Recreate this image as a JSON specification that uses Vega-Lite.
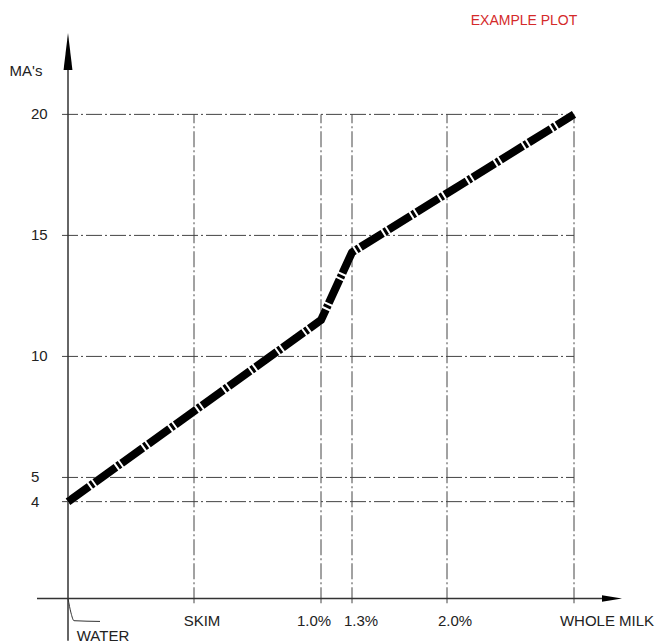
{
  "$schema": "https://vega.github.io/schema/vega-lite/v6.json",
  "width": 600,
  "height": 622,
  "autosize": "none",
  "padding": {"left": 28, "right": 31, "top": 20, "bottom": 2},
  "background": "white",
  "config": {"view": {"stroke": null}, "font": "Liberation Sans"},
  "datasets": {
    "series": [
      {"milk": "WATER", "pos": 0, "ma": 4},
      {"milk": "1.0%", "pos": 253, "ma": 11.5},
      {"milk": "1.3%", "pos": 284, "ma": 14.3},
      {"milk": "WHOLE MILK", "pos": 506, "ma": 20}
    ],
    "xcats": [
      {"label": "SKIM", "pos": 126, "lx": 134, "ly": -0.95},
      {"label": "1.0%", "pos": 253, "lx": 246, "ly": -0.95},
      {"label": "1.3%", "pos": 284, "lx": 293, "ly": -0.95},
      {"label": "2.0%", "pos": 379, "lx": 387, "ly": -0.95},
      {"label": "WHOLE  MILK", "pos": 506, "lx": 539, "ly": -0.95}
    ],
    "ylevels": [
      {"ma": 4, "label": "4"},
      {"ma": 5, "label": "5"},
      {"ma": 10, "label": "10"},
      {"ma": 15, "label": "15"},
      {"ma": 20, "label": "20"}
    ],
    "leader": [
      {"pos": 0, "ma": 0},
      {"pos": 3, "ma": -0.6},
      {"pos": 6, "ma": -0.92},
      {"pos": 32, "ma": -0.95}
    ],
    "one": [{"k": 1}]
  },
  "layer": [
    {
      "data": {"name": "ylevels"},
      "mark": {"type": "rule", "stroke": "#444", "strokeWidth": 1, "strokeDash": [16, 3, 2, 3]},
      "encoding": {
        "y": {"field": "ma", "type": "quantitative", "scale": {"domain": [-1.8, 23.9], "nice": false, "zero": false}, "axis": null},
        "x": {"datum": -6, "type": "quantitative", "scale": {"domain": [-40, 560], "nice": false, "zero": false}, "axis": null},
        "x2": {"datum": 506}
      }
    },
    {
      "data": {"name": "xcats"},
      "mark": {"type": "rule", "stroke": "#444", "strokeWidth": 1, "strokeDash": [16, 3, 2, 3]},
      "encoding": {
        "x": {"field": "pos", "type": "quantitative", "scale": {"domain": [-40, 560], "nice": false, "zero": false}, "axis": null},
        "y": {"datum": -0.2, "type": "quantitative", "scale": {"domain": [-1.8, 23.9], "nice": false, "zero": false}, "axis": null},
        "y2": {"datum": 20}
      }
    },
    {
      "data": {"name": "one"},
      "mark": {"type": "rule", "stroke": "#333", "strokeWidth": 1.5},
      "encoding": {
        "x": {"datum": -31, "type": "quantitative", "scale": {"domain": [-40, 560], "nice": false, "zero": false}, "axis": null},
        "x2": {"datum": 544},
        "y": {"datum": 0, "type": "quantitative", "scale": {"domain": [-1.8, 23.9], "nice": false, "zero": false}, "axis": null}
      }
    },
    {
      "data": {"name": "one"},
      "mark": {"type": "rule", "stroke": "#333", "strokeWidth": 1.5},
      "encoding": {
        "x": {"datum": 0, "type": "quantitative", "scale": {"domain": [-40, 560], "nice": false, "zero": false}, "axis": null},
        "y": {"datum": -1.75, "type": "quantitative", "scale": {"domain": [-1.8, 23.9], "nice": false, "zero": false}, "axis": null},
        "y2": {"datum": 22}
      }
    },
    {
      "data": {"name": "one"},
      "mark": {"type": "point", "shape": "M0,-1L0.24,1L-0.24,1Z", "size": 1369, "filled": true, "color": "black", "opacity": 1},
      "encoding": {
        "x": {"datum": 0, "type": "quantitative", "scale": {"domain": [-40, 560], "nice": false, "zero": false}, "axis": null},
        "y": {"datum": 22.6, "type": "quantitative", "scale": {"domain": [-1.8, 23.9], "nice": false, "zero": false}, "axis": null}
      }
    },
    {
      "data": {"name": "one"},
      "mark": {"type": "point", "shape": "M1,0L-1,0.32L-1,-0.32Z", "size": 400, "filled": true, "color": "black", "opacity": 1},
      "encoding": {
        "x": {"datum": 544, "type": "quantitative", "scale": {"domain": [-40, 560], "nice": false, "zero": false}, "axis": null},
        "y": {"datum": 0, "type": "quantitative", "scale": {"domain": [-1.8, 23.9], "nice": false, "zero": false}, "axis": null}
      }
    },
    {
      "data": {"name": "leader"},
      "mark": {"type": "line", "stroke": "#333", "strokeWidth": 1, "interpolate": "monotone"},
      "encoding": {
        "x": {"field": "pos", "type": "quantitative", "scale": {"domain": [-40, 560], "nice": false, "zero": false}, "axis": null},
        "y": {"field": "ma", "type": "quantitative", "scale": {"domain": [-1.8, 23.9], "nice": false, "zero": false}, "axis": null},
        "order": {"field": "pos"}
      }
    },
    {
      "data": {"name": "series"},
      "mark": {"type": "line", "stroke": "white", "strokeWidth": 8, "strokeJoin": "round"},
      "encoding": {
        "x": {"field": "pos", "type": "quantitative", "scale": {"domain": [-40, 560], "nice": false, "zero": false}, "axis": null},
        "y": {"field": "ma", "type": "quantitative", "scale": {"domain": [-1.8, 23.9], "nice": false, "zero": false}, "axis": null}
      }
    },
    {
      "data": {"name": "series"},
      "mark": {"type": "line", "stroke": "black", "strokeWidth": 8, "strokeJoin": "round", "strokeDash": [26, 2, 3, 2]},
      "encoding": {
        "x": {"field": "pos", "type": "quantitative", "scale": {"domain": [-40, 560], "nice": false, "zero": false}, "axis": null},
        "y": {"field": "ma", "type": "quantitative", "scale": {"domain": [-1.8, 23.9], "nice": false, "zero": false}, "axis": null}
      }
    },
    {
      "data": {"name": "ylevels"},
      "mark": {"type": "text", "align": "left", "baseline": "middle", "fontSize": 15, "fill": "#222"},
      "encoding": {
        "x": {"datum": -37, "type": "quantitative", "scale": {"domain": [-40, 560], "nice": false, "zero": false}, "axis": null},
        "y": {"field": "ma", "type": "quantitative", "scale": {"domain": [-1.8, 23.9], "nice": false, "zero": false}, "axis": null},
        "text": {"field": "label"}
      }
    },
    {
      "data": {"name": "xcats"},
      "mark": {"type": "text", "align": "center", "baseline": "middle", "fontSize": 15, "fill": "#222"},
      "encoding": {
        "x": {"field": "lx", "type": "quantitative", "scale": {"domain": [-40, 560], "nice": false, "zero": false}, "axis": null},
        "y": {"field": "ly", "type": "quantitative", "scale": {"domain": [-1.8, 23.9], "nice": false, "zero": false}, "axis": null},
        "text": {"field": "label"}
      }
    },
    {
      "data": {"values": [
        {"text": "WATER", "x": 35, "y": -1.57, "kind": "x"},
        {"text": "MA's", "x": -42, "y": 21.78, "kind": "y"}
      ]},
      "mark": {"type": "text", "align": "center", "baseline": "middle", "fontSize": 15, "fill": "#222"},
      "encoding": {
        "x": {"field": "x", "type": "quantitative", "scale": {"domain": [-40, 560], "nice": false, "zero": false}, "axis": null},
        "y": {"field": "y", "type": "quantitative", "scale": {"domain": [-1.8, 23.9], "nice": false, "zero": false}, "axis": null},
        "text": {"field": "text"}
      }
    },
    {
      "data": {"values": [{"text": "EXAMPLE PLOT", "x": 456, "y": 23.84}]},
      "mark": {"type": "text", "align": "center", "baseline": "middle", "fontSize": 14, "fill": "#d42a2a"},
      "encoding": {
        "x": {"field": "x", "type": "quantitative", "scale": {"domain": [-40, 560], "nice": false, "zero": false}, "axis": null},
        "y": {"field": "y", "type": "quantitative", "scale": {"domain": [-1.8, 23.9], "nice": false, "zero": false}, "axis": null},
        "text": {"field": "text"}
      }
    }
  ]
}
